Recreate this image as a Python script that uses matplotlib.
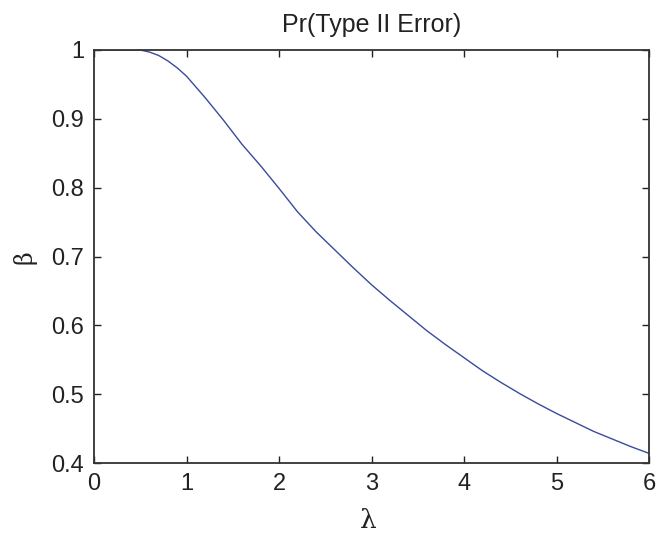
import matplotlib
matplotlib.use("Agg")
import matplotlib.pyplot as plt

lam = [0, 0.25, 0.5, 0.6, 0.7, 0.8, 0.9, 1.0, 1.2, 1.4, 1.6, 1.8, 2.0, 2.2, 2.4, 2.6,
       2.8, 3.0, 3.2, 3.4, 3.6, 3.8, 4.0, 4.2, 4.4, 4.6, 4.8, 5.0, 5.2, 5.4, 5.6, 5.8, 6.0]
beta = [1.0, 1.0, 1.0, 0.997, 0.992, 0.984, 0.974, 0.962, 0.931, 0.898, 0.863, 0.832,
        0.799, 0.765, 0.736, 0.710, 0.684, 0.659, 0.636, 0.614, 0.592, 0.572, 0.553,
        0.534, 0.517, 0.501, 0.486, 0.472, 0.459, 0.446, 0.435, 0.424, 0.414]
xticks = [0, 1, 2, 3, 4, 5, 6]
yticks = [0.4, 0.5, 0.6, 0.7, 0.8, 0.9, 1.0]
ytick_labels = ["0.4", "0.5", "0.6", "0.7", "0.8", "0.9", "1"]

plt.rcParams['font.family'] = ['Liberation Sans', 'DejaVu Sans']

fig = plt.figure(figsize=(6.58, 5.38), dpi=100)
ax = fig.add_axes([94/658, 1 - 463/538, (649 - 94)/658, (463 - 50)/538])

ax.plot(lam, beta, color='#3b4a9c', lw=1.0)
ax.set_xlim(0, 6)
ax.set_ylim(0.4, 1.0)
ax.set_xticks(xticks)
ax.set_xticklabels([str(t) for t in xticks])
ax.set_yticks(yticks)
ax.set_yticklabels(ytick_labels)

ax.tick_params(direction='in', length=5, width=1, top=True, right=True,
               labelsize=17, pad=7, colors='#222222')
for s in ax.spines.values():
    s.set_linewidth(1.3)
    s.set_color('#333333')

ax.set_title('Pr(Type II Error)', fontsize=18, pad=13, color='#222222')
fig.text(368/658, 1 - 521/538, 'λ', fontsize=19, family='DejaVu Serif',
         ha='center', va='center', color='#222222')
fig.text(25/658, 1 - 257/538, 'β', fontsize=17, family='DejaVu Serif',
         rotation=90, ha='center', va='center', color='#222222')

fig.savefig('out.png', dpi=100)
